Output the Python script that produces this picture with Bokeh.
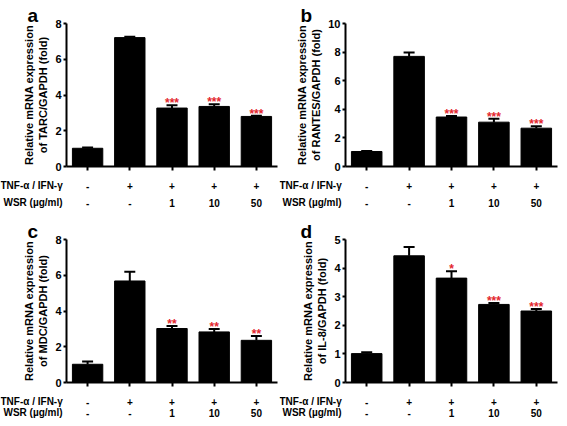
from bokeh.plotting import figure
from bokeh.models import Range1d, FixedTicker, Label, LinearAxis
from bokeh.layouts import column, row
from bokeh.embed import file_html
from bokeh.resources import INLINE

# ---------------- data ----------------
positions = [0, 1, 2, 3, 4]
tnf_row = ["-", "+", "+", "+", "+"]
wsr_row = ["-", "-", "1", "10", "50"]
tnf_title = "TNF-α / IFN-γ"
wsr_title = "WSR (µg/ml)"

tarc_mean = [1.02, 7.21, 3.27, 3.36, 2.80]
tarc_err = [0.04, 0.05, 0.15, 0.12, 0.04]
tarc_stars = ["", "", "***", "***", "***"]

rantes_mean = [1.05, 7.70, 3.46, 3.10, 2.68]
rantes_err = [0.03, 0.27, 0.07, 0.24, 0.14]
rantes_stars = ["", "", "***", "***", "***"]

mdc_mean = [1.02, 5.68, 3.02, 2.83, 2.36]
mdc_err = [0.15, 0.52, 0.14, 0.16, 0.24]
mdc_stars = ["", "", "**", "**", "**"]

il8_mean = [1.01, 4.43, 3.65, 2.73, 2.50]
il8_err = [0.05, 0.31, 0.24, 0.05, 0.07]
il8_stars = ["", "", "*", "***", "***"]

FONT = "Liberation Sans"
STAR_RED = "#e3262d"


def make_panel(letter, ylabel, means, errs, stars, ymax, yticks,
               width, height, bottom, row_offsets, letter_x):
    L, R, T = 66, 2, 23
    FW = width - L - R
    FH = height - T - bottom
    ppx = FW / 5.0
    ppy = FH / float(ymax)

    x0 = -0.5 - L / ppx
    x1 = 4.5 + R / ppx
    y0 = -bottom / ppy
    y1 = ymax + T / ppy

    p = figure(width=width, height=height, output_backend="svg",
               toolbar_location=None, tools="",
               x_range=Range1d(x0, x1), y_range=Range1d(y0, y1),
               x_axis_location=None, y_axis_location=None,
               min_border=0)
    p.xgrid.visible = False
    p.ygrid.visible = False
    p.outline_line_color = None
    p.background_fill_color = "white"
    p.border_fill_color = "white"

    p.vbar(x=positions, top=means, width=0.72,
           fill_color="black", line_color="black")
    tops = [m + e for m, e in zip(means, errs)]
    p.segment(x0=positions, y0=means, x1=positions, y1=tops,
              line_color="black", line_width=2)
    p.segment(x0=[x - 0.13 for x in positions], y0=tops,
              x1=[x + 0.13 for x in positions], y1=tops,
              line_color="black", line_width=2)

    # y axis, pinned at the left edge of the bar area
    ya = LinearAxis(fixed_location=-0.5, bounds=(0, ymax))
    ya.ticker = FixedTicker(ticks=yticks)
    ya.minor_tick_line_color = None
    ya.axis_line_width = 2
    ya.major_tick_line_width = 2
    ya.major_tick_out = 3
    ya.major_tick_in = 0
    ya.major_label_standoff = 2
    ya.major_label_text_font = FONT
    ya.major_label_text_font_style = "bold"
    ya.major_label_text_font_size = "11px"
    ya.major_label_text_color = "black"
    ya.axis_label = ylabel
    ya.axis_label_text_font = FONT
    ya.axis_label_text_font_style = "bold"
    ya.axis_label_text_font_size = "11px"
    ya.axis_label_text_color = "black"
    ya.axis_label_standoff = 3
    p.add_layout(ya, "left")

    # x axis, pinned at y = 0
    xa = LinearAxis(fixed_location=0, bounds=(-0.5, 4.5))
    xa.ticker = FixedTicker(ticks=positions)
    xa.minor_tick_line_color = None
    xa.axis_line_width = 2
    xa.major_tick_line_width = 2
    xa.major_tick_out = 4
    xa.major_tick_in = 0
    xa.major_label_overrides = {i: "" for i in positions}
    xa.major_label_text_font_size = "1px"
    p.add_layout(xa, "below")

    # significance stars
    for i, s in enumerate(stars):
        if s:
            p.add_layout(Label(x=positions[i], y=tops[i] + 2.0 / ppy, text=s,
                               text_color=STAR_RED, text_font=FONT,
                               text_font_size="12px", text_font_style="bold",
                               text_align="center", text_baseline="alphabetic"))

    # condition rows below the axis
    for title, vals, off, dx in ((tnf_title, tnf_row, row_offsets[0], 0),
                                 (wsr_title, wsr_row, row_offsets[1], 3)):
        yy = -off / ppy
        p.add_layout(Label(x=x0 + dx / ppx, y=yy, text=title,
                           text_font=FONT, text_font_size="10px",
                           text_font_style="bold", text_color="black",
                           text_align="left", text_baseline="middle"))
        for i, v in enumerate(vals):
            p.add_layout(Label(x=positions[i], y=yy, text=v,
                               text_font=FONT, text_font_size="10px",
                               text_font_style="bold", text_color="black",
                               text_align="center", text_baseline="middle"))

    # panel letter
    p.add_layout(Label(x=x0 + letter_x / ppx, y=ymax + 8.0 / ppy,
                       text=letter, text_font=FONT, text_font_size="19px",
                       text_font_style="bold", text_color="black",
                       text_align="left", text_baseline="alphabetic"))
    return p


pa = make_panel("a", "Relative mRNA expression\nof TARC/GAPDH (fold)",
                tarc_mean, tarc_err, tarc_stars, 8, [0, 2, 4, 6, 8],
                279, 216, 50, (19, 36), 27)
pb = make_panel("b", "Relative mRNA expression\nof RANTES/GAPDH (fold)",
                rantes_mean, rantes_err, rantes_stars, 10, [0, 2, 4, 6, 8, 10],
                280, 216, 50, (19, 36), 21)
pc = make_panel("c", "Relative mRNA expression\nof MDC/GAPDH (fold)",
                mdc_mean, mdc_err, mdc_stars, 8, [0, 2, 4, 6, 8],
                279, 202, 36, (19, 30), 27)
pd = make_panel("d", "Relative mRNA expression\nof IL-8/GAPDH (fold)",
                il8_mean, il8_err, il8_stars, 5, [0, 1, 2, 3, 4, 5],
                280, 202, 36, (19, 30), 21)

layout = column(row(pa, pb), row(pc, pd))
open("out.html", "w").write(file_html(layout, INLINE))
